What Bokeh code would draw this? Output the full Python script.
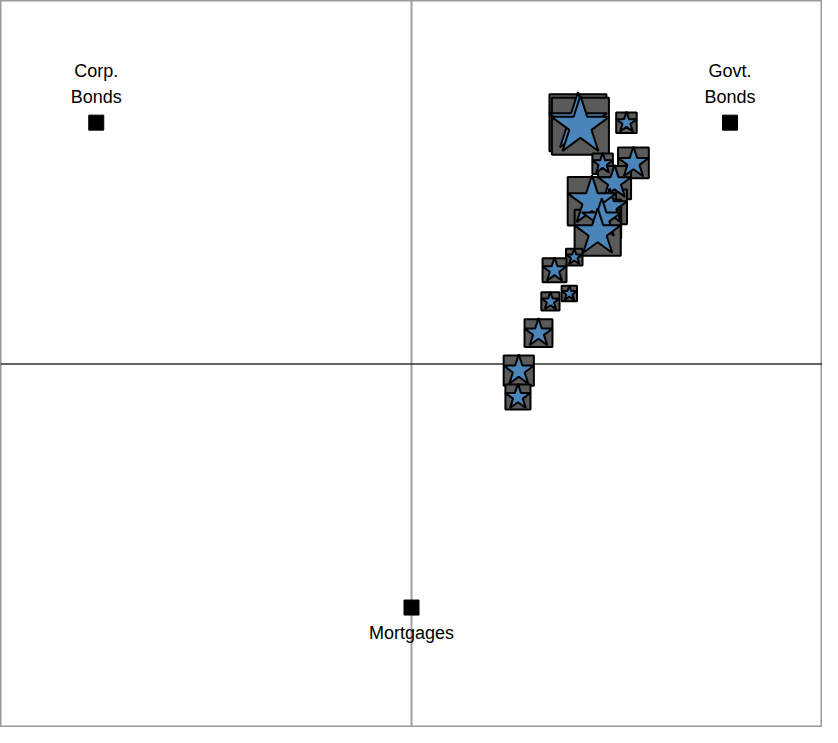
from bokeh.plotting import figure
from bokeh.models import Span, ColumnDataSource
from bokeh.core.properties import value
from bokeh.embed import file_html
from bokeh.resources import INLINE

# Anchor (asset class) positions
anchor_names = ["Corp.\nBonds", "Govt.\nBonds", "Mortgages"]
anchor_x = [-0.767, 0.775, 0.0]
anchor_y = [0.664, 0.664, -0.670]

# Fund positions and relative sizes
fund_x = [0.405, 0.411, 0.523, 0.465, 0.540, 0.494, 0.482, 0.439, 0.463, 0.453,
          0.396, 0.348, 0.384, 0.338, 0.309, 0.261, 0.259]
fund_y = [0.664, 0.654, 0.664, 0.551, 0.553, 0.499, 0.432, 0.448, 0.399, 0.361,
          0.294, 0.258, 0.194, 0.172, 0.085, -0.018, -0.091]
fund_weight = [100, 100, 36, 36, 54, 58, 61, 85, 68, 81,
               29, 42, 27, 32, 49, 53, 44]

W, H = 822, 727
p = figure(width=W, height=H, x_range=(-1.0, 1.0), y_range=(-1.0, 1.0),
           output_backend="svg", toolbar_location=None,
           x_axis_location=None, y_axis_location=None,
           min_border=0, outline_line_color="#9a9a9a", outline_line_width=2,
           background_fill_color="white", border_fill_color="white")
p.grid.visible = False

p.add_layout(Span(location=0, dimension="height", line_color="#a0a0a0",
                  line_width=2, level="underlay"))
p.add_layout(Span(location=0, dimension="width", line_color="#303030",
                  line_width=1.3, level="underlay"))

scale = 0.57
src = ColumnDataSource(dict(x=fund_x, y=fund_y,
                            s=[w * scale for w in fund_weight],
                            ss=[w * scale * 1.07 for w in fund_weight]))
p.scatter("x", "y", size="s", marker="square", source=src,
          fill_color="#5a5a5a", line_color="black", line_width=2)
p.scatter("x", "y", size="ss", marker="star", source=src,
          fill_color="#4a84b8", line_color="black", line_width=2)

p.scatter(anchor_x, anchor_y, size=15, marker="square",
          fill_color="black", line_color="black")

# labels above for top anchors, below for the bottom one
p.text(x=anchor_x[:2], y=anchor_y[:2], text=anchor_names[:2],
       text_font=value("Liberation Sans"), text_font_size="18px",
       text_align="center", text_baseline="bottom", y_offset=-16,
       text_line_height=1.3, text_color="black")
p.text(x=anchor_x[2:], y=anchor_y[2:], text=anchor_names[2:],
       text_font=value("Liberation Sans"), text_font_size="18px",
       text_align="center", text_baseline="top", y_offset=15,
       text_color="black")

open("out.html", "w").write(file_html(p, INLINE))
